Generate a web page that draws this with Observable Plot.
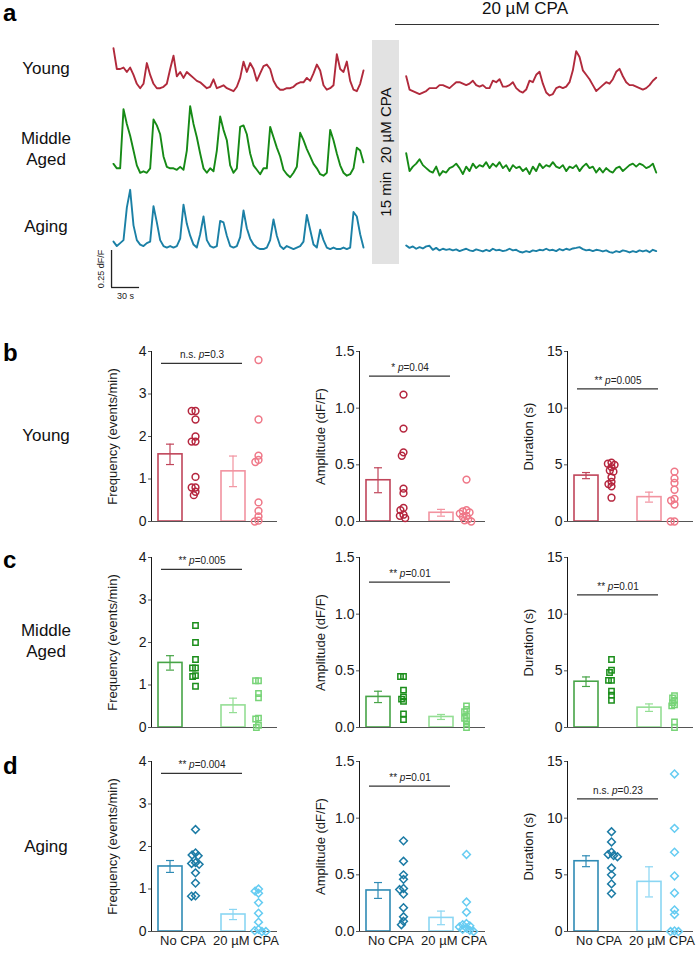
<!DOCTYPE html>
<html><head><meta charset="utf-8">
<script src="https://cdn.jsdelivr.net/npm/d3@7"></script>
<script src="https://cdn.jsdelivr.net/npm/@observablehq/plot@0.6"></script>
<style>
body{margin:0;background:#fff;font-family:"Liberation Sans",Arial,Helvetica,sans-serif;}
#fig{position:relative;width:698px;height:954px;overflow:hidden;background:#fff;}
#fig svg{font-family:"Liberation Sans",Arial,Helvetica,sans-serif !important;font-size:14px;}
.t{position:absolute;color:#111;white-space:pre;line-height:21px;}
.rowlbl{left:0;width:92px;text-align:center;font-size:17px;}
.letter{left:3px;font-weight:bold;font-size:24px;line-height:26px;color:#000;}
#fig svg [aria-label="fx-axis tick label"]{font-size:13px;}
#fig svg [aria-label="y-axis tick label"]{font-size:14px;}
#fig svg [aria-label="y-axis label"]{font-size:13px;}
#fig svg [aria-label^="y-axis"] path, #fig svg [aria-label^="y-axis"] line{stroke:#555;}
</style></head><body><div id="fig"></div>
<script>
// ---------------- DATA ----------------
// Calcium traces (dF/F), one sample every 3.57 s
const sampleInterval = 3.57;
const youngBefore = [0.29,0.15,0.15,0.16,0.13,0.16,0.11,0.05,0.02,0.05,0.19,0.11,0.05,0.02,0.02,0.03,0.05,0.15,0.24,0.10,0.13,0.09,0.13,0.11,0.09,0.07,0.06,0.04,0.02,0.03,0.08,0.02,0.03,0.04,0.02,0.01,0.00,0.03,0.09,0.20,0.13,0.19,0.15,0.07,0.12,0.17,0.18,0.15,0.07,0.03,0.01,0.01,0.02,0.02,0.03,0.05,0.06,0.06,0.09,0.07,0.12,0.18,0.14,0.04,0.01,0.02,0.04,0.25,0.15,0.13,0.20,0.07,0.01,0.00,0.05,0.14];
const middleBefore = [0.09,0.06,0.06,0.46,0.36,0.28,0.18,0.08,0.03,0.04,0.03,0.06,0.39,0.35,0.29,0.14,0.07,0.06,0.06,0.05,0.07,0.05,0.18,0.48,0.36,0.27,0.16,0.06,0.03,0.06,0.04,0.18,0.41,0.32,0.25,0.08,0.03,0.06,0.34,0.35,0.29,0.16,0.08,0.05,0.02,0.06,0.06,0.34,0.27,0.2,0.14,0.05,0.02,0.0,0.03,0.07,0.3,0.25,0.19,0.14,0.09,0.06,0.02,0.01,0.03,0.32,0.25,0.16,0.08,0.03,0.01,0.02,0.06,0.2,0.18,0.1];
const agingBefore = [0.06,0.03,0.05,0.07,0.29,0.41,0.17,0.07,0.04,0.03,0.05,0.06,0.30,0.19,0.07,0.03,0.02,0.03,0.02,0.03,0.08,0.31,0.18,0.10,0.04,0.02,0.11,0.23,0.07,0.03,0.02,0.03,0.2,0.19,0.1,0.03,0.02,0.03,0.09,0.27,0.15,0.08,0.04,0.02,0.01,0.01,0.02,0.07,0.21,0.10,0.03,0.01,0.03,0.02,0.01,0.02,0.03,0.06,0.24,0.14,0.04,0.02,0.14,0.07,0.02,0.01,0.02,0.01,0.01,0.02,0.01,0.02,0.26,0.23,0.11,0.02];
const youngAfter = [0.13,0.04,0.03,0.02,0.01,0.02,0.03,0.05,0.05,0.05,0.07,0.07,0.06,0.05,0.07,0.09,0.09,0.08,0.07,0.08,0.10,0.07,0.06,0.07,0.05,0.05,0.10,0.09,0.11,0.06,0.06,0.07,0.09,0.05,0.03,0.02,0.04,0.10,0.09,0.14,0.16,0.08,0.02,0.0,0.01,0.05,0.06,0.05,0.06,0.09,0.17,0.30,0.26,0.17,0.14,0.11,0.07,0.03,0.05,0.07,0.09,0.08,0.11,0.16,0.18,0.13,0.09,0.07,0.07,0.06,0.05,0.04,0.05,0.07,0.10,0.12];
const middleAfter = [0.15,0.03,0.06,0.08,0.11,0.07,0.05,0.03,0.02,0.06,0.0,0.03,0.02,0.05,0.06,0.08,0.05,0.01,0.06,0.03,0.08,0.05,0.07,0.06,0.09,0.05,0.08,0.06,0.09,0.05,0.07,0.03,0.07,0.05,0.06,0.03,0.05,0.01,0.06,0.03,0.08,0.05,0.07,0.06,0.09,0.06,0.05,0.07,0.03,0.06,0.05,0.07,0.03,0.06,0.08,0.05,0.06,0.02,0.05,0.02,0.05,0.03,0.02,0.05,0.06,0.03,0.05,0.07,0.08,0.06,0.08,0.07,0.05,0.06,0.08,0.02];
const agingAfter = [0.056,0.04,0.05,0.034,0.045,0.036,0.05,0.054,0.027,0.04,0.023,0.034,0.027,0.032,0.023,0.03,0.018,0.027,0.034,0.023,0.018,0.03,0.023,0.016,0.027,0.018,0.034,0.023,0.027,0.018,0.023,0.034,0.023,0.027,0.014,0.009,0.018,0.011,0.023,0.018,0.027,0.023,0.034,0.023,0.027,0.018,0.032,0.023,0.034,0.027,0.036,0.04,0.045,0.032,0.023,0.027,0.018,0.027,0.023,0.016,0.023,0.011,0.007,0.018,0.011,0.023,0.018,0.009,0.018,0.011,0.023,0.016,0.023,0.011,0.027,0.018];
const scaleBarDff = 0.25, scaleBarSec = 30;

// Summary panels
const conditions = ["No CPA", "20 µM CPA"];
const measureLabels = ["Frequency (events/min)", "Amplitude (dF/F)", "Duration (s)"];
const measureTicks = [[0,1,2,3,4],[0,0.5,1.0,1.5],[0,5,10,15]];

const youngFreqNo = [2.6,2.6,2.4,2.0,1.88,1.88,1.05,0.8,0.8,0.7,0.62];
const youngFreqCpa = [3.8,2.4,1.55,1.45,1.4,0.45,0.25,0.12,0.02,0];
const youngFreqMean = [1.58,1.18], youngFreqSem = [0.24,0.36];
const youngAmpNo = [1.12,0.82,0.61,0.58,0.29,0.25,0.12,0.1,0.06,0.05,0.03];
const youngAmpCpa = [0.37,0.1,0.09,0.08,0.07,0.05,0.04,0.02,0.01,0];
const youngAmpMean = [0.364,0.077], youngAmpSem = [0.11,0.03];
const youngDurNo = [5.2,5.1,5.0,4.8,4.5,4.4,3.9,3.5,3.3,3.1,2.1];
const youngDurCpa = [4.4,3.8,3.4,2.8,2.0,1.85,1.5,0,0];
const youngDurMean = [4.05,2.15], youngDurSem = [0.27,0.44];
const youngP = ["n.s. p=0.3", "* p=0.04", "** p=0.005"];

const middleFreqNo = [2.4,2.0,1.6,1.4,1.4,1.22,1.2,0.97];
const middleFreqCpa = [1.1,1.1,0.8,0.7,0.22,0.2,0.05,0];
const middleFreqMean = [1.52,0.52], middleFreqSem = [0.17,0.17];
const middleAmpNo = [0.45,0.45,0.33,0.27,0.25,0.23,0.12,0.07];
const middleAmpCpa = [0.19,0.16,0.14,0.1,0.08,0.06,0.03,0];
const middleAmpMean = [0.27,0.093], middleAmpSem = [0.05,0.022];
const middleDurNo = [6.0,5.05,4.85,4.15,4.15,3.2,2.85,2.4];
const middleDurCpa = [2.8,2.6,2.4,2.2,2.0,1.9,0.5,0];
const middleDurMean = [4.04,1.75], middleDurSem = [0.42,0.33];
const middleP = ["** p=0.005", "** p=0.01", "** p=0.01"];

const agingFreqNo = [2.4,1.85,1.8,1.78,1.62,1.6,1.58,1.38,1.14,0.84,0.83];
const agingFreqCpa = [1.0,0.95,0.9,0.68,0.43,0.22,0.05,0.02,0,0];
const agingFreqMean = [1.53,0.40], agingFreqSem = [0.14,0.12];
const agingAmpNo = [0.8,0.62,0.5,0.46,0.38,0.37,0.33,0.21,0.13,0.09,0.06];
const agingAmpCpa = [0.68,0.26,0.17,0.07,0.06,0.05,0.04,0.03,0.02,0.01,0];
const agingAmpMean = [0.362,0.12], agingAmpSem = [0.07,0.06];
const agingDurNo = [8.8,7.9,7.0,6.8,6.7,6.6,5.6,5.0,4.2,3.35];
const agingDurCpa = [13.9,9.1,7.0,4.9,3.4,1.9,1.5,0.05,0,0];
const agingDurMean = [6.2,4.38], agingDurSem = [0.48,1.33];
const agingP = ["** p=0.004", "** p=0.01", "n.s. p=0.23"];

// ---------------- STYLE / LAYOUT ----------------
const palettes = {
  young:  {trace:"#b12a3c", dark:"#b5263e", bar:"#c0455a", light:"#ef7888", lightBar:"#f293a0", symbol:"circle", r:3.4},
  middle: {trace:"#168a16", dark:"#1b8e1b", bar:"#47a447", light:"#78d478", lightBar:"#94de94", symbol:"square", r:3.0},
  aging:  {trace:"#1b80a6", dark:"#1c7ba5", bar:"#2f8bb5", light:"#66ccf2", lightBar:"#8ad6f3", symbol:"diamond2", r:3.5}
};
const fig = document.getElementById("fig");
function place(el, left, top) {
  el.style.position = "absolute"; el.style.left = left + "px"; el.style.top = top + "px";
  el.style.background = "transparent"; el.style.overflow = "visible"; el.style.maxWidth = "none";
  fig.appendChild(el); return el;
}
function addText(txt, cls, left, top, extra) {
  const d = document.createElement("div"); d.className = "t " + cls; d.textContent = txt;
  d.style.left = left + "px"; d.style.top = top + "px";
  if (extra) Object.assign(d.style, extra);
  fig.appendChild(d); return d;
}
function fixTexts(svg) {
  svg.querySelectorAll("text").forEach(t => {
    if (t.textContent.includes("↑")) t.textContent = t.textContent.replace(/\s*↑\s*/g, "");
    const s = t.textContent, i = s.indexOf("p=");
    if (i < 0 || t.querySelector("tspan")) return;
    t.textContent = "";
    t.appendChild(document.createTextNode(s.slice(0, i)));
    const ts = document.createElementNS("http://www.w3.org/2000/svg", "tspan");
    ts.setAttribute("font-style", "italic"); ts.textContent = "p"; t.appendChild(ts);
    t.appendChild(document.createTextNode(s.slice(i + 1)));
  });
}

// ---------------- PANEL a ----------------
const pxPerDff = 148, pxPerSec = 250 / (75 * sampleInterval);
function trace(values, color, x0, base, extra = []) {
  const pts = values.map((v, i) => ({t: i * sampleInterval, v}));
  const tEnd = (values.length - 1) * sampleInterval;
  const svg = Plot.plot({
    width: 698, height: 300, margin: 0,
    style: {background: "transparent", color: "#222"},
    x: {domain: [0, tEnd], range: [x0, x0 + tEnd * pxPerSec], axis: null},
    y: {domain: [0, 1], range: [base, base - pxPerDff], axis: null},
    marks: [Plot.line(pts, {x: "t", y: "v", stroke: color, strokeWidth: 1.9}), ...extra]
  });
  place(svg, 0, 0);
}
const sbX = -2.1;
const scaleMarks = [
  Plot.ruleX([scaleBarDff], {x: sbX, y1: d => -d, y2: 0, stroke: "#222", strokeWidth: 1.3}),
  Plot.ruleY([scaleBarSec], {y: -scaleBarDff, x1: sbX, x2: d => sbX + d, stroke: "#222", strokeWidth: 1.3}),
  Plot.text([`${scaleBarDff} dF/F`], {x: sbX, y: -scaleBarDff / 2, rotate: -90, dx: -10, fontSize: 9, text: d => d, fill: "#222"}),
  Plot.text([`${scaleBarSec} s`], {x: sbX + scaleBarSec / 2, y: -scaleBarDff, dy: 9, fontSize: 9, text: d => d, fill: "#222"})
];
trace(youngBefore, palettes.young.trace, 113, 90.7);
trace(middleBefore, palettes.middle.trace, 113, 176.7);
trace(agingBefore, palettes.aging.trace, 113, 250, scaleMarks);
trace(youngAfter, palettes.young.trace, 405.7, 95);
trace(middleAfter, palettes.middle.trace, 405.7, 175);
trace(agingAfter, palettes.aging.trace, 405.7, 253.3);

// gray treatment box + header
const box = document.createElement("div");
Object.assign(box.style, {position: "absolute", left: "372px", top: "40px", width: "27px", height: "224px", background: "#e2e2e2"});
fig.appendChild(box);
addText("15 min  20 µM CPA", "", 385, 152, {fontSize: "15px", lineHeight: "17px", transform: "translate(-50%,-50%) rotate(-90deg)"});
addText("20 µM CPA", "", 525, 0, {fontSize: "17px", lineHeight: "17px", transform: "translateX(-50%)"});
const hline = document.createElement("div");
Object.assign(hline.style, {position: "absolute", left: "395px", top: "24px", width: "264px", height: "0", borderTop: "1.5px solid #333"});
fig.appendChild(hline);

addText("a", "letter", 3, 0);
addText("Young", "rowlbl", 0, 57.6);
addText("Middle\nAged", "rowlbl", 0, 127.6);
addText("Aging", "rowlbl", 0, 215.6);

// ---------------- PANELS b-d ----------------
const colLeft = [91, 299, 507];
const rowZero = [521, 726.5, 931];
const sigLevel = [0.93, 0.855, 0.78];
function statPlot(group, row, col, noVals, cpaVals, mean, sem, p) {
  const pal = palettes[group];
  const ticks = measureTicks[col], max = ticks[ticks.length - 1];
  const dots = [...noVals.map(v => ({c: conditions[0], v, col: pal.dark})),
                ...cpaVals.map(v => ({c: conditions[1], v, col: pal.light}))];
  const bars = conditions.map((c, i) => ({c, m: mean[i], s: sem[i], col: i ? pal.lightBar : pal.bar}));
  const sig = [{c: conditions[0], y: sigLevel[col] * max, label: p}];
  const showX = row === 2;
  const svg = Plot.plot({
    width: 208, height: 214, marginLeft: 60, marginRight: 22, marginTop: 20, marginBottom: 24,
    style: {background: "transparent", color: "#1a1a1a"},
    color: {type: "identity"},
    fx: {domain: conditions, padding: 0, axis: showX ? "bottom" : null, label: null, tickSize: 0, tickPadding: 4},
    y: {domain: [0, max], ticks, tickFormat: col === 1 ? d3.format(".1f") : d3.format("d"),
        label: measureLabels[col], labelArrow: "none", labelAnchor: "center", labelOffset: 44, line: true, tickSize: 3, tickPadding: 2},
    marks: [
      Plot.barY(bars, {fx: "c", y: "m", fill: "white", stroke: "col", strokeWidth: 1.6, insetLeft: 7, insetRight: 32}),
      Plot.barY(bars, {fx: "c", y1: d => d.m - d.s, y2: d => d.m + d.s, fill: "col", insetLeft: 18.4, insetRight: 43.4}),
      Plot.tickY(bars, {fx: "c", y: d => d.m + d.s, stroke: "col", strokeWidth: 1.2, insetLeft: 15, insetRight: 40}),
      Plot.tickY(bars, {fx: "c", y: d => d.m - d.s, stroke: "col", strokeWidth: 1.2, insetLeft: 15, insetRight: 40}),
      Plot.ruleY([0], {stroke: "#555", strokeWidth: 1.2}),
      Plot.dot(dots, Plot.dodgeX({anchor: "middle", padding: -3},
        {fx: "c", y: "v", r: pal.r, symbol: pal.symbol, stroke: "col", fill: "none", strokeWidth: 1.5, dx: 12.5})),
      Plot.ruleY(sig, {fx: "c", y: "y", insetLeft: 10, insetRight: -28, stroke: "#333", strokeWidth: 1.3}),
      Plot.text(sig, {fx: "c", y: "y", text: "label", dy: -8.5, dx: 19, fontSize: 10, fill: "#222"})
    ]
  });
  fixTexts(svg);
  place(svg, colLeft[col], rowZero[row] - 190);
}
const groupsData = [
  ["young", [[youngFreqNo, youngFreqCpa, youngFreqMean, youngFreqSem], [youngAmpNo, youngAmpCpa, youngAmpMean, youngAmpSem], [youngDurNo, youngDurCpa, youngDurMean, youngDurSem]], youngP],
  ["middle", [[middleFreqNo, middleFreqCpa, middleFreqMean, middleFreqSem], [middleAmpNo, middleAmpCpa, middleAmpMean, middleAmpSem], [middleDurNo, middleDurCpa, middleDurMean, middleDurSem]], middleP],
  ["aging", [[agingFreqNo, agingFreqCpa, agingFreqMean, agingFreqSem], [agingAmpNo, agingAmpCpa, agingAmpMean, agingAmpSem], [agingDurNo, agingDurCpa, agingDurMean, agingDurSem]], agingP]
];
groupsData.forEach(([g, sets, ps], row) => sets.forEach((s, col) => statPlot(g, row, col, s[0], s[1], s[2], s[3], ps[col])));

addText("b", "letter", 3, 340);
addText("c", "letter", 3, 547);
addText("d", "letter", 3, 753);
addText("Young", "rowlbl", 0, 425);
addText("Middle\nAged", "rowlbl", 0, 620);
addText("Aging", "rowlbl", 0, 835.6);
</script></body></html>
